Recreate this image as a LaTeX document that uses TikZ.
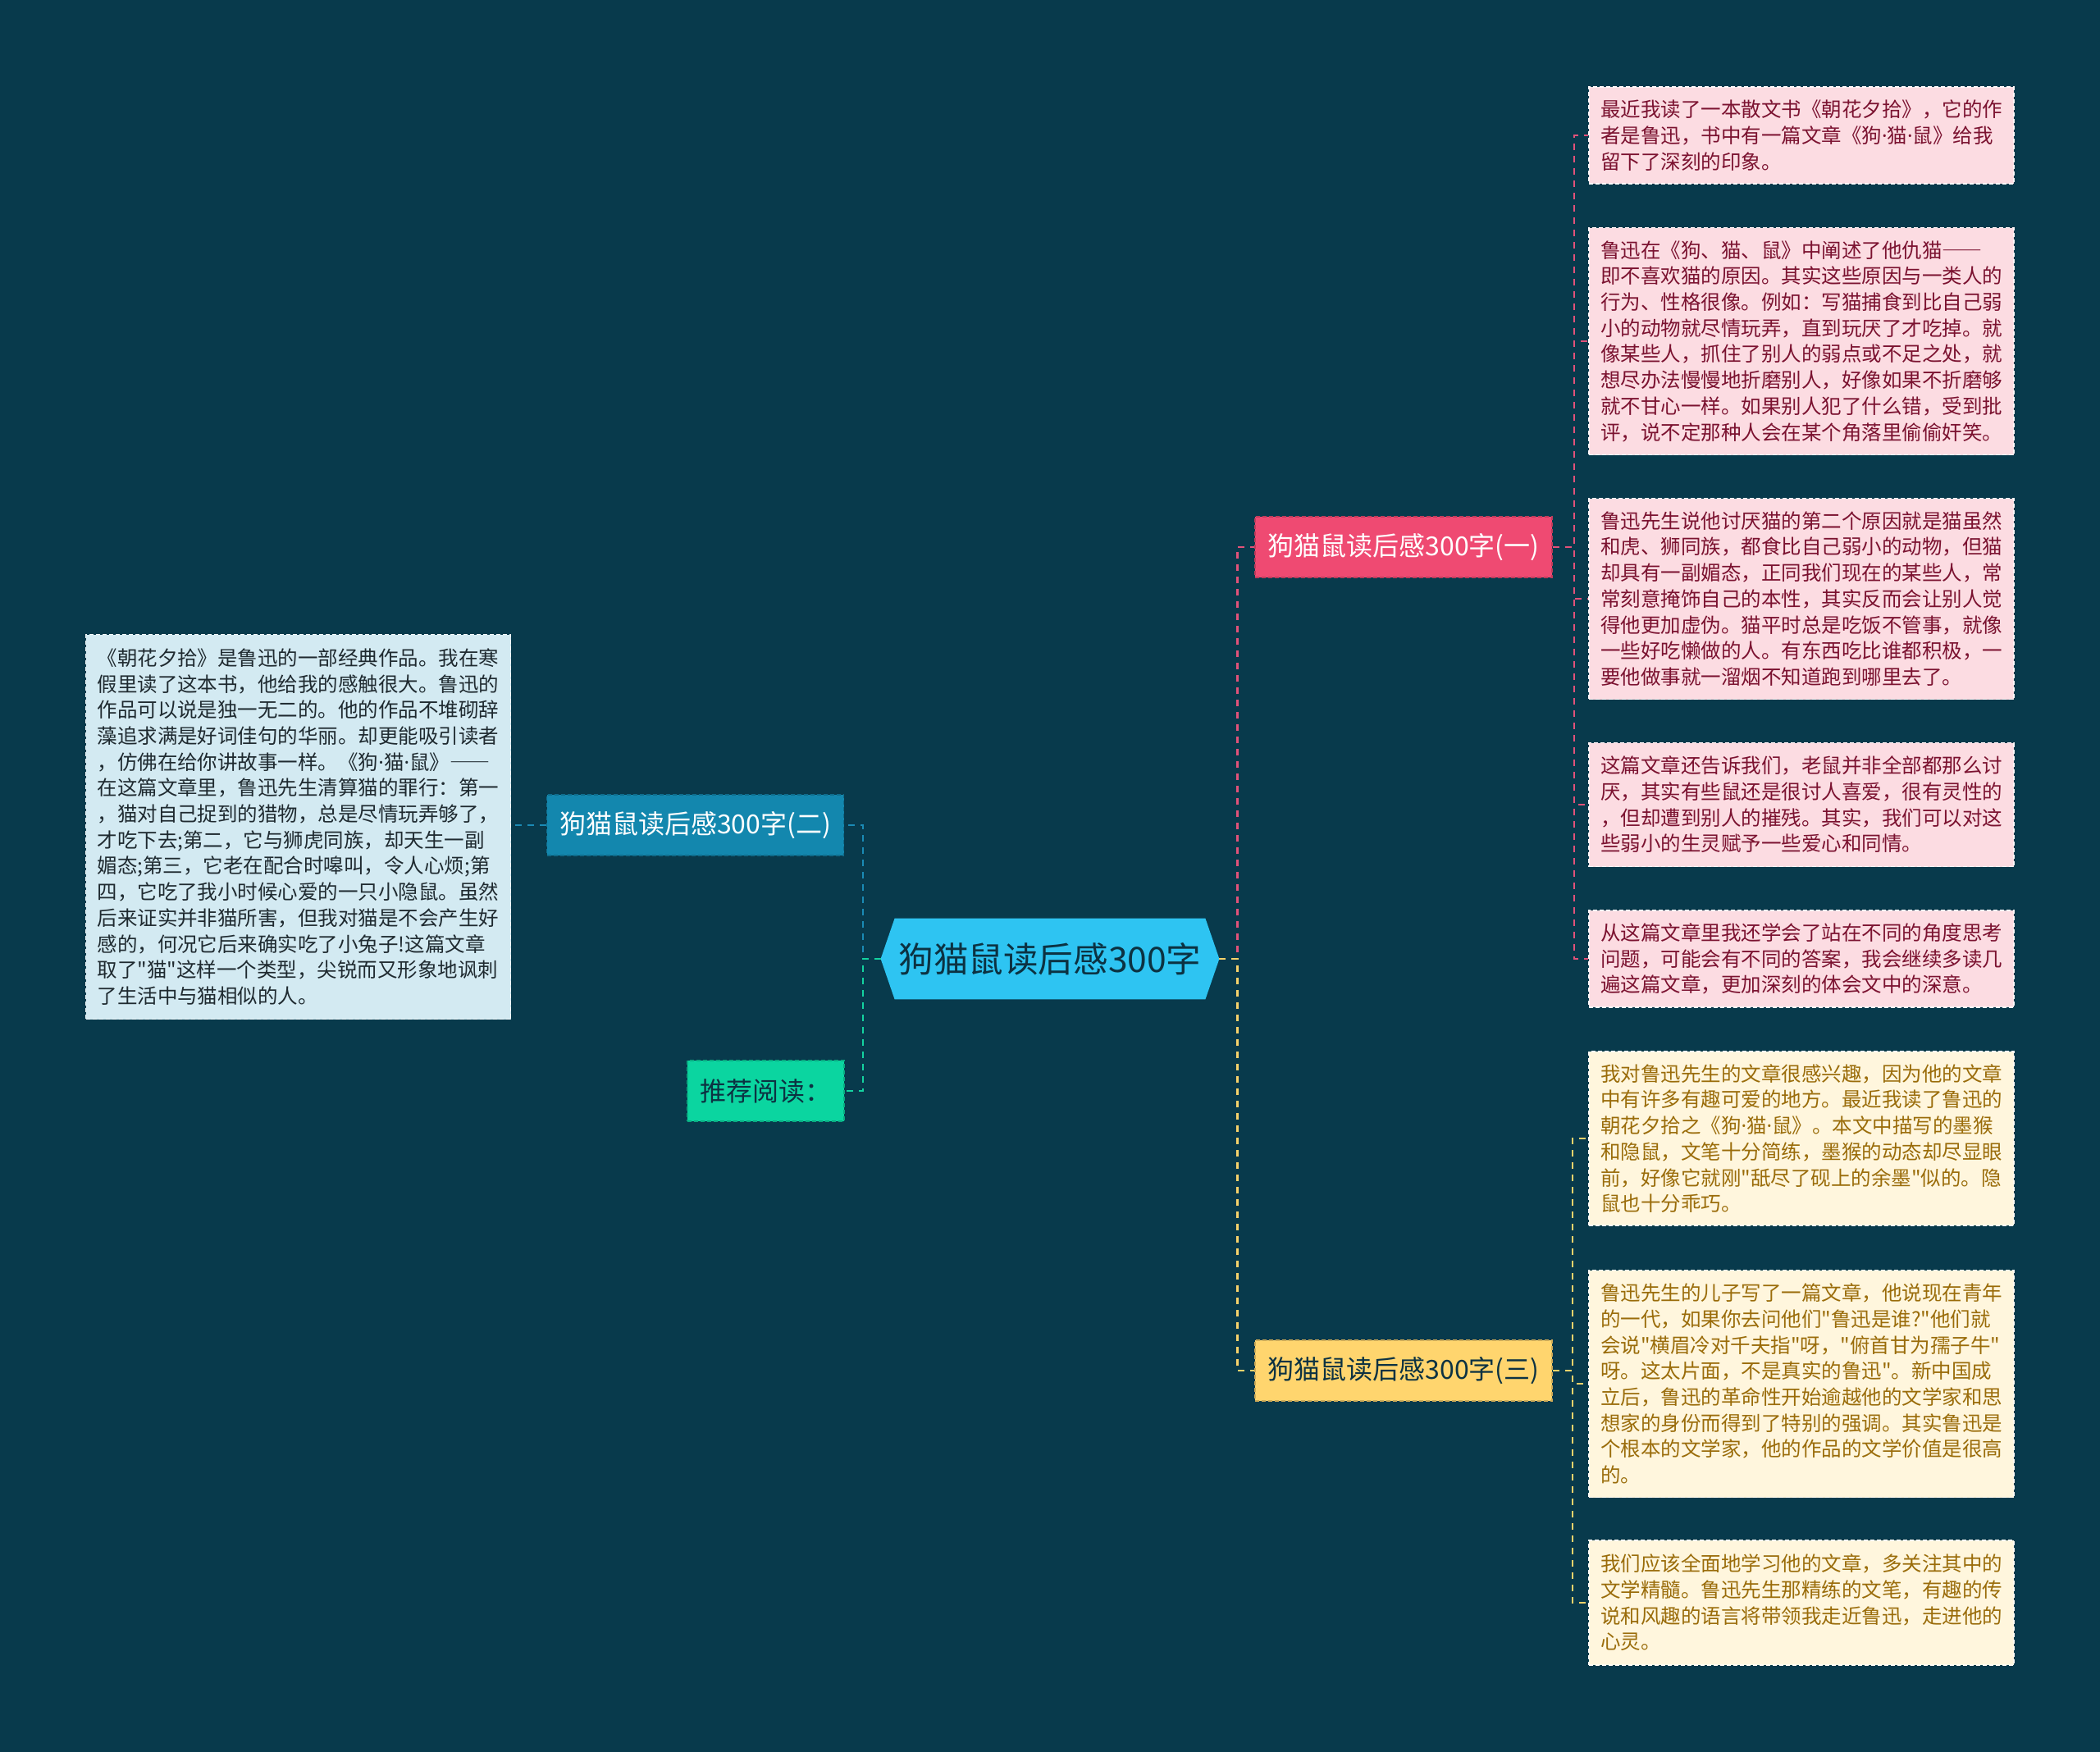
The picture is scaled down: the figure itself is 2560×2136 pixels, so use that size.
\documentclass[tikz,border=0pt]{standalone}
\usepackage{fontspec}
\setmainfont{Noto Sans CJK SC}[Ligatures=TeXOff]
\newfontfamily\latinfont{Noto Sans}[Ligatures=TeXOff]
\newcommand\md{{\latinfont ·}}
\newcommand\emd{\mbox{\addfontfeature{RawFeature=+fwid}——}}
\pgfdeclarelayer{back}
\pgfdeclarelayer{mid}
\pgfsetlayers{back,mid,main}
\definecolor{bgc}{RGB}{8,58,76}
\definecolor{rootfill}{RGB}{46,196,242}
\definecolor{roottext}{RGB}{12,50,66}
\definecolor{bonefill}{RGB}{239,74,114}
\definecolor{bthreefill}{RGB}{255,213,110}
\definecolor{btwofill}{RGB}{19,135,174}
\definecolor{recfill}{RGB}{11,213,160}
\definecolor{pinkleaf}{RGB}{252,220,226}
\definecolor{pinktext}{RGB}{123,18,48}
\definecolor{yelleaf}{RGB}{255,246,221}
\definecolor{yeltext}{RGB}{154,108,10}
\definecolor{blueleaf}{RGB}{211,234,242}
\definecolor{bluetext}{RGB}{31,42,48}
\definecolor{pinkedge}{RGB}{226,82,122}
\definecolor{yeledge}{RGB}{247,211,107}
\definecolor{blueedge}{RGB}{26,138,181}
\definecolor{greenedge}{RGB}{20,211,160}
\tikzset{
  rootnode/.style={rectangle, minimum width=206pt, minimum height=49pt, inner sep=0pt,
    text=roottext, font=\fontsize{21.3pt}{25pt}\selectfont},
  branchbox/.style={rectangle, minimum width=181pt, minimum height=37pt, inner sep=0pt,
    line width=0.9pt, dash pattern=on 2.5pt off 1.5pt, font=\fontsize{16pt}{19pt}\selectfont},
  leafbox/.style={rectangle, text width=245pt, inner xsep=7pt, inner ysep=0pt,
    align=left, line width=0.9pt, dash pattern=on 2.5pt off 1.5pt,
    font=\fontsize{12.25pt}{15.85pt}\selectfont},
  pinkbox/.style={leafbox, fill=pinkleaf, draw=white!80!pinkleaf, text=pinktext},
  yelbox/.style={leafbox, fill=yelleaf, draw=white!70!yelleaf, text=yeltext},
  bluebox/.style={leafbox, fill=blueleaf, draw=white!70!blueleaf, text=bluetext},
  edgeline/.style={line width=1.1pt, dash pattern=on 4pt off 3.5pt},
}
\begin{document}
\begin{tikzpicture}[x=0.5pt,y=-0.5pt]
\begin{pgfonlayer}{back}
\fill[bgc] (0,0) rectangle (2560,2136);
\end{pgfonlayer}
\useasboundingbox (0,0) rectangle (2560,2136);

% root
\node[rootnode] (root) at (1280,1169) {狗猫鼠读后感300字};

% branches
\node[branchbox, fill=bonefill, draw=bonefill!80!black, text=white] (b1) at (1711,667) {狗猫鼠读后感300字(一)};
\node[branchbox, fill=bthreefill, draw=bthreefill!80!black, text=roottext] (b3) at (1711,1671) {狗猫鼠读后感300字(三)};
\node[branchbox, fill=btwofill, draw=btwofill!80!black, text=white] (b2) at (847.5,1006) {狗猫鼠读后感300字(二)};
\node[branchbox, minimum width=95.5pt, fill=recfill, draw=recfill!80!black, text=roottext] (rec) at (933.5,1330) {推荐阅读：};

% pink leaves
\node[pinkbox, minimum height=59pt] (p1) at (2196,165) {最近我读了一本散文书《朝花夕拾》，它的作\\者是鲁迅，书中有一篇文章《狗\md 猫\md 鼠》给我\\留下了深刻的印象。};
\node[pinkbox, minimum height=138.5pt] (p2) at (2196,416) {鲁迅在《狗、猫、鼠》中阐述了他仇猫\emd\\即不喜欢猫的原因。其实这些原因与一类人的\\行为、性格很像。例如：写猫捕食到比自己弱\\小的动物就尽情玩弄，直到玩厌了才吃掉。就\\像某些人，抓住了别人的弱点或不足之处，就\\想尽办法慢慢地折磨别人，好像如果不折磨够\\就不甘心一样。如果别人犯了什么错，受到批\\评，说不定那种人会在某个角落里偷偷奸笑。};
\node[pinkbox, minimum height=122.5pt] (p3) at (2196,730) {鲁迅先生说他讨厌猫的第二个原因就是猫虽然\\和虎、狮同族，都食比自己弱小的动物，但猫\\却具有一副媚态，正同我们现在的某些人，常\\常刻意掩饰自己的本性，其实反而会让别人觉\\得他更加虚伪。猫平时总是吃饭不管事，就像\\一些好吃懒做的人。有东西吃比谁都积极，一\\要他做事就一溜烟不知道跑到哪里去了。};
\node[pinkbox, minimum height=75.5pt] (p4) at (2196,981) {这篇文章还告诉我们，老鼠并非全部都那么讨\\厌，其实有些鼠还是很讨人喜爱，很有灵性的\\，但却遭到别人的摧残。其实，我们可以对这\\些弱小的生灵赋予一些爱心和同情。};
\node[pinkbox, minimum height=59pt] (p5) at (2196,1169) {从这篇文章里我还学会了站在不同的角度思考\\问题，可能会有不同的答案，我会继续多读几\\遍这篇文章，更加深刻的体会文中的深意。};

% yellow leaves
\node[yelbox, minimum height=106pt] (y1) at (2196,1388) {我对鲁迅先生的文章很感兴趣，因为他的文章\\中有许多有趣可爱的地方。最近我读了鲁迅的\\朝花夕拾之《狗\md 猫\md 鼠》。本文中描写的墨猴\\和隐鼠，文笔十分简练，墨猴的动态却尽显眼\\前，好像它就刚"舐尽了砚上的余墨"似的。隐\\鼠也十分乖巧。};
\node[yelbox, minimum height=138.5pt] (y2) at (2196,1687) {鲁迅先生的儿子写了一篇文章，他说现在青年\\的一代，如果你去问他们"鲁迅是谁?"他们就\\会说"横眉冷对千夫指"呀，"俯首甘为孺子牛"\\呀。这太片面，不是真实的鲁迅"。新中国成\\立后，鲁迅的革命性开始逾越他的文学家和思\\想家的身份而得到了特别的强调。其实鲁迅是\\个根本的文学家，他的作品的文学价值是很高\\的。};
\node[yelbox, minimum height=76pt] (y3) at (2196,1954) {我们应该全面地学习他的文章，多关注其中的\\文学精髓。鲁迅先生那精练的文笔，有趣的传\\说和风趣的语言将带领我走近鲁迅，走进他的\\心灵。};

% left leaf
\node[bluebox, minimum height=234.5pt] (lb) at (363.5,1008) {《朝花夕拾》是鲁迅的一部经典作品。我在寒\\假里读了这本书，他给我的感触很大。鲁迅的\\作品可以说是独一无二的。他的作品不堆砌辞\\藻追求满是好词佳句的华丽。却更能吸引读者\\，仿佛在给你讲故事一样。《狗\md 猫\md 鼠》\emd\\在这篇文章里，鲁迅先生清算猫的罪行：第一\\，猫对自己捉到的猎物，总是尽情玩弄够了，\\才吃下去;第二，它与狮虎同族，却天生一副\\媚态;第三，它老在配合时嗥叫，令人心烦;第\\四，它吃了我小时候心爱的一只小隐鼠。虽然\\后来证实并非猫所害，但我对猫是不会产生好\\感的，何况它后来确实吃了小兔子!这篇文章\\取了"猫"这样一个类型，尖锐而又形象地讽刺\\了生活中与猫相似的人。};

\begin{pgfonlayer}{mid}
% root hexagon
\fill[rootfill] (root.west) -- ([xshift=8.5pt]root.north west) -- ([xshift=-8.5pt]root.north east)
  -- (root.east) -- ([xshift=-8.5pt]root.south east) -- ([xshift=8.5pt]root.south west) -- cycle;
% root to branches
\draw[edgeline, draw=pinkedge] (root.east) -- ++(22,0) |- (b1.west);
\draw[edgeline, draw=yeledge] (root.east) -- ++(22,0) |- (b3.west);
\draw[edgeline, draw=blueedge] (root.west) -- ++(-22,0) |- (b2.east);
\draw[edgeline, draw=greenedge] (root.west) -- ++(-22,0) |- (rec.east);
% branch 1 to leaves
\foreach \n in {p1,p2,p3,p4,p5}{
  \draw[edgeline, draw=pinkedge] (b1.east) -- ++(26,0) |- (\n.west);
}
% branch 3 to leaves
\foreach \n in {y1,y2,y3}{
  \draw[edgeline, draw=yeledge] (b3.east) -- ++(24,0) |- (\n.west);
}
% branch 2 to left leaf
\draw[edgeline, draw=blueedge] (b2.west) -- (b2.west -| lb.east);
\end{pgfonlayer}
\end{tikzpicture}
\end{document}
